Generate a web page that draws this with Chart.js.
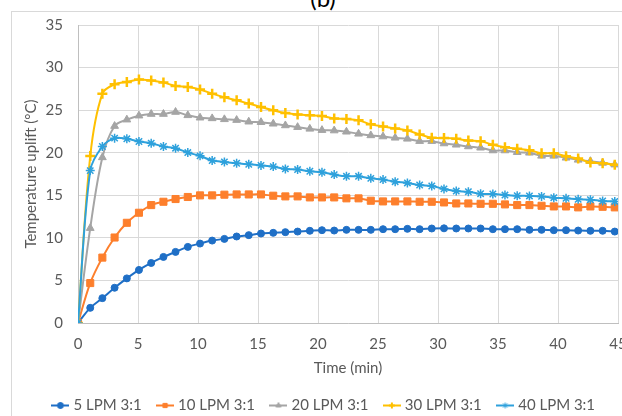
<!DOCTYPE html>
<html>
<head>
<meta charset="utf-8">
<script src="https://cdn.jsdelivr.net/npm/chart.js@4.4.1/dist/chart.umd.min.js"></script>
<style>
  html, body { margin: 0; padding: 0; background: #fff; overflow: hidden; }
  body { width: 622px; height: 416px; position: relative; }
  #frame { position: absolute; left: 11px; top: 11px; width: 700px; height: 500px; border: 1px solid #d9d9d9; }
  #panel { position: absolute; left: 296px; width: 54px; top: -14px; text-align: center; font: 24px Lato, sans-serif; line-height: 24px; color: #000; }
  #wrap { position: absolute; left: 0; top: 0; width: 640px; height: 423px; }
</style>
</head>
<body>
<div id="frame"></div>
<div id="panel">(b)</div>
<div id="wrap"><canvas id="tempChart"></canvas></div>
<script>
// sample times (min), roughly one reading every 61 s
const timeMin = [0, 1.02, 2.03, 3.05, 4.07, 5.08, 6.1, 7.12, 8.13, 9.15, 10.17, 11.18, 12.2, 13.22, 14.23,
    15.25, 16.27, 17.28, 18.3, 19.32, 20.33, 21.35, 22.37, 23.38, 24.4, 25.42, 26.43, 27.45, 28.47, 29.48,
    30.5, 31.52, 32.53, 33.55, 34.57, 35.58, 36.6, 37.62, 38.63, 39.65, 40.67, 41.68, 42.7, 43.72, 44.73];

const lpm5 = [0, 1.78, 2.92, 4.14, 5.24, 6.23, 7.05, 7.76, 8.35, 8.94, 9.33, 9.68, 9.88, 10.16, 10.32,
    10.51, 10.59, 10.67, 10.74, 10.83, 10.9, 10.86, 10.94, 10.94, 10.94, 11.02, 11.02, 11.06, 11.02, 11.1,
    11.12, 11.1, 11.1, 11.1, 11.02, 11.02, 11.02, 10.94, 10.94, 10.9, 10.9, 10.86, 10.83, 10.83, 10.74];
const lpm10 = [0, 4.69, 7.68, 10.04, 11.77, 12.95, 13.85, 14.24, 14.56, 14.8, 14.99, 14.99, 15.07, 15.1, 15.1,
    15.1, 14.95, 14.87, 14.87, 14.75, 14.75, 14.75, 14.64, 14.64, 14.36, 14.28, 14.28, 14.28, 14.24, 14.24,
    14.16, 14.04, 14.04, 14.0, 14.0, 13.93, 13.85, 13.85, 13.77, 13.69, 13.69, 13.58, 13.69, 13.65, 13.58];
const lpm20 = [0, 11.14, 19.45, 23.13, 23.88, 24.35, 24.54, 24.54, 24.78, 24.39, 24.11, 24.03, 23.92, 23.83, 23.64,
    23.58, 23.4, 23.2, 23.0, 22.8, 22.65, 22.6, 22.46, 22.22, 22.03, 21.9, 21.75, 21.63, 21.36, 21.36,
    21.08, 20.93, 20.73, 20.58, 20.26, 20.26, 20.06, 19.99, 19.63, 19.63, 19.4, 19.16, 19.0, 18.8, 18.6];
const lpm30 = [0, 19.6, 26.94, 28.04, 28.31, 28.6, 28.48, 28.24, 27.84, 27.72, 27.42, 26.94, 26.51, 26.16, 25.77,
    25.37, 24.98, 24.66, 24.5, 24.39, 24.3, 24.03, 23.95, 23.8, 23.33, 23.09, 22.85, 22.6, 22.15, 21.75,
    21.72, 21.63, 21.44, 21.36, 20.93, 20.65, 20.46, 20.3, 19.94, 19.94, 19.59, 19.32, 18.84, 18.76, 18.6];
const lpm40 = [0, 17.9, 20.73, 21.71, 21.63, 21.32, 21.12, 20.73, 20.53, 20.02, 19.63, 19.08, 18.92, 18.76, 18.64,
    18.51, 18.37, 18.1, 18.02, 17.82, 17.7, 17.43, 17.23, 17.23, 16.99, 16.84, 16.6, 16.45, 16.21, 16.09,
    15.75, 15.5, 15.42, 15.19, 15.15, 15.03, 14.95, 14.92, 14.87, 14.72, 14.64, 14.52, 14.48, 14.33, 14.28];

const seriesLabels = ['5 LPM 3:1', '10 LPM 3:1', '20 LPM 3:1', '30 LPM 3:1', '40 LPM 3:1'];

Chart.defaults.font.family = 'Lato, sans-serif';
Chart.defaults.font.size = 15;
Chart.defaults.color = '#595959';

// small "line with marker" icon for the legend, like Excel
function legendIcon(color, shape) {
    const c = document.createElement('canvas');
    c.width = 18;
    c.height = 9;
    const g = c.getContext('2d');
    g.strokeStyle = color;
    g.fillStyle = color;
    g.lineWidth = 2;
    g.beginPath();
    g.moveTo(0, 4.5);
    g.lineTo(18, 4.5);
    g.stroke();
    g.lineWidth = shape === 'cross' ? 2 : 1;
    Chart.helpers.drawPoint(g, { pointStyle: shape, radius: 3, borderWidth: g.lineWidth }, 9, 4.5);
    return c;
}

function series(label, values, color, shape, radius, markerWidth, order) {
    return {
        label: label,
        data: values.map((v, i) => ({ x: timeMin[i], y: v })),
        borderColor: color,
        backgroundColor: color,
        borderWidth: 2,
        pointStyle: shape,
        pointRadius: radius,
        pointBorderWidth: markerWidth,
        tension: 0.35,
        order: order,
        icon: legendIcon(color, shape),
    };
}

const datasets = [
    series(seriesLabels[0], lpm5, '#1f6fc6', 'circle', 3.5, 1, 4),
    series(seriesLabels[1], lpm10, '#fd7f2c', 'rect', 5, 1, 3),
    series(seriesLabels[2], lpm20, '#a5a5a5', 'triangle', 4.5, 1, 2),
    series(seriesLabels[3], lpm30, '#ffc000', 'cross', 5, 2.5, 1),
    series(seriesLabels[4], lpm40, '#2ea1dc', 'star', 4.5, 1.5, 0),
];

// the Excel legend sits a bit right of the plot centre
const legendShift = {
    id: 'legendShift',
    afterLayout(chart) {
        chart.legend.left += 10;
        chart.legend.right += 10;
    },
};

new Chart(document.getElementById('tempChart'), {
    type: 'line',
    data: { datasets: datasets },
    plugins: [legendShift],
    options: {
        responsive: true,
        maintainAspectRatio: false,
        animation: false,
        layout: { padding: { left: 12, right: 22, top: 25, bottom: 0 } },
        plugins: {
            tooltip: { enabled: false },
            legend: {
                position: 'bottom',
                labels: {
                    usePointStyle: true,
                    pointStyleWidth: 11,
                    padding: 18,
                    color: '#595959',
                    generateLabels: chart => chart.data.datasets.map((ds, i) => ({
                        text: ds.label,
                        pointStyle: ds.icon,
                        fillStyle: ds.borderColor,
                        strokeStyle: ds.borderColor,
                        lineWidth: 0,
                        hidden: false,
                        datasetIndex: i,
                        fontColor: '#595959',
                    })),
                },
            },
        },
        scales: {
            x: {
                type: 'linear',
                min: 0,
                max: 45,
                ticks: { stepSize: 5, padding: 12 },
                grid: { color: '#d9d9d9', drawTicks: false },
                border: { color: '#bfbfbf' },
                title: { display: true, text: 'Time (min)', padding: { top: -6, bottom: 3 } },
            },
            y: {
                min: 0,
                max: 35,
                ticks: { stepSize: 5, padding: 15 },
                grid: { color: '#d9d9d9', drawTicks: false },
                border: { color: '#bfbfbf' },
                title: { display: true, text: 'Temperature uplift (°C)', padding: { top: 10, bottom: 0 } },
                afterFit: scale => { scale.width = 66; },
            },
        },
    },
});
</script>
</body>
</html>
